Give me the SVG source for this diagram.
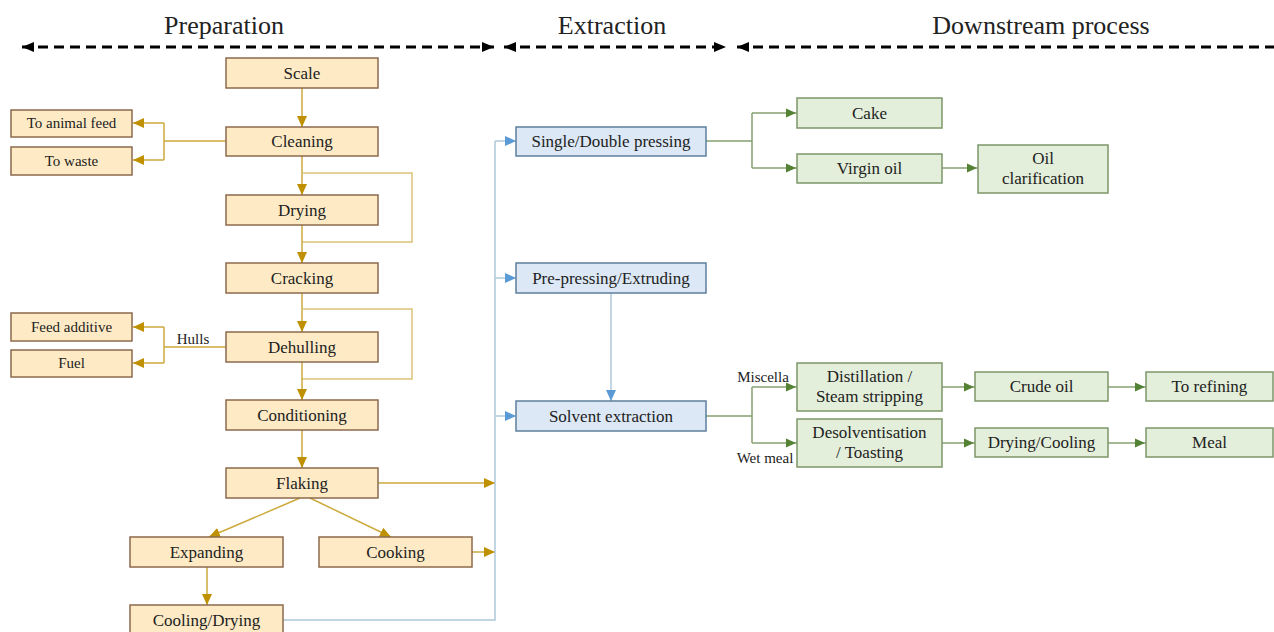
<svg xmlns="http://www.w3.org/2000/svg" width="1274" height="632" viewBox="0 0 1274 632">
<defs>
<style>
text{font-family:"Liberation Serif","DejaVu Serif",serif;fill:#222;text-anchor:middle}
.h{font-size:26px}
.t{font-size:17px}
.s{font-size:15px}
.o rect{fill:#FEEBC6;stroke:#8C6A4C;stroke-width:1.5}
.b rect{fill:#DCE8F5;stroke:#5E7F9C;stroke-width:1.5}
.g rect{fill:#E3EFDA;stroke:#7C9669;stroke-width:1.5}
.co{fill:none;stroke:#CDAA3C;stroke-width:1.5}
.cl{fill:none;stroke:#DCC27A;stroke-width:1.5}
.cb{fill:none;stroke:#AFC8DA;stroke-width:1.5}
.cg{fill:none;stroke:#86A072;stroke-width:1.5}
.dash{fill:none;stroke:#000;stroke-width:3;stroke-dasharray:10 6}
</style>
<marker id="ao" markerUnits="userSpaceOnUse" markerWidth="12" markerHeight="12" refX="11" refY="6" orient="auto"><path d="M0,1 L11,6 L0,11 Z" fill="#BF9000"/></marker>
<marker id="ab" markerUnits="userSpaceOnUse" markerWidth="12" markerHeight="12" refX="11" refY="6" orient="auto"><path d="M0,1 L11,6 L0,11 Z" fill="#5B9BD5"/></marker>
<marker id="ag" markerUnits="userSpaceOnUse" markerWidth="12" markerHeight="12" refX="11" refY="6" orient="auto"><path d="M0,1.5 L10,6 L0,10.5 Z" fill="#548235"/></marker>
<marker id="ak" markerUnits="userSpaceOnUse" markerWidth="14" markerHeight="14" refX="12" refY="7" orient="auto-start-reverse"><path d="M0,2 L12,7 L0,12 Z" fill="#000"/></marker>
</defs>

<g id="headers">
<text class="h" x="224" y="34">Preparation</text>
<text class="h" x="612" y="34">Extraction</text>
<text class="h" x="1041" y="34">Downstream process</text>
<line class="dash" x1="22" y1="47" x2="494" y2="47" marker-start="url(#ak)" marker-end="url(#ak)"/>
<line class="dash" x1="504" y1="47" x2="726" y2="47" marker-start="url(#ak)" marker-end="url(#ak)"/>
<line class="dash" x1="737" y1="47" x2="1274" y2="47" marker-start="url(#ak)"/>
</g>

<g id="connectors">
<line class="co" x1="302" y1="88" x2="302" y2="127" marker-end="url(#ao)"/>
<path class="co" d="M226,141 H164 M164,123 V160"/>
<line class="co" x1="164" y1="123" x2="133" y2="123" marker-end="url(#ao)"/>
<line class="co" x1="164" y1="160" x2="133" y2="160" marker-end="url(#ao)"/>
<line class="co" x1="302" y1="156" x2="302" y2="195" marker-end="url(#ao)"/>
<path class="cl" d="M302,173 H412 V242 H302"/>
<line class="co" x1="302" y1="225" x2="302" y2="263" marker-end="url(#ao)"/>
<line class="co" x1="302" y1="293" x2="302" y2="332" marker-end="url(#ao)"/>
<path class="cl" d="M302,309 H412 V379 H302"/>
<path class="co" d="M226,347 H164 M164,327 V363"/>
<line class="co" x1="164" y1="327" x2="133" y2="327" marker-end="url(#ao)"/>
<line class="co" x1="164" y1="363" x2="133" y2="363" marker-end="url(#ao)"/>
<line class="co" x1="302" y1="362" x2="302" y2="400" marker-end="url(#ao)"/>
<line class="co" x1="302" y1="430" x2="302" y2="468" marker-end="url(#ao)"/>
<line class="co" x1="300" y1="498" x2="209" y2="537" marker-end="url(#ao)"/>
<line class="co" x1="310" y1="498" x2="391" y2="537" marker-end="url(#ao)"/>
<line class="co" x1="207" y1="567" x2="207" y2="605" marker-end="url(#ao)"/>
<line class="co" x1="378" y1="483" x2="495" y2="483" marker-end="url(#ao)"/>
<line class="co" x1="472" y1="552" x2="495" y2="552" marker-end="url(#ao)"/>
<path class="cb" d="M283,620 H495 V141"/>
<line class="cb" x1="495" y1="141" x2="516" y2="141" marker-end="url(#ab)"/>
<line class="cb" x1="495" y1="278" x2="516" y2="278" marker-end="url(#ab)"/>
<line class="cb" x1="495" y1="416" x2="516" y2="416" marker-end="url(#ab)"/>
<line class="cb" x1="611" y1="293" x2="611" y2="401" marker-end="url(#ab)"/>
<path class="cg" d="M706,141 H752 M752,113 V168"/>
<line class="cg" x1="752" y1="113" x2="797" y2="113" marker-end="url(#ag)"/>
<line class="cg" x1="752" y1="168" x2="797" y2="168" marker-end="url(#ag)"/>
<line class="cg" x1="942" y1="168" x2="978" y2="168" marker-end="url(#ag)"/>
<path class="cg" d="M706,416 H752 M752,387 V443"/>
<line class="cg" x1="752" y1="387" x2="797" y2="387" marker-end="url(#ag)"/>
<line class="cg" x1="752" y1="443" x2="797" y2="443" marker-end="url(#ag)"/>
<line class="cg" x1="942" y1="387" x2="975" y2="387" marker-end="url(#ag)"/>
<line class="cg" x1="1108" y1="387" x2="1146" y2="387" marker-end="url(#ag)"/>
<line class="cg" x1="942" y1="443" x2="975" y2="443" marker-end="url(#ag)"/>
<line class="cg" x1="1108" y1="443" x2="1146" y2="443" marker-end="url(#ag)"/>
<text class="s" x="193" y="344">Hulls</text>
<text class="s" x="763" y="382">Miscella</text>
<text class="s" x="765" y="463">Wet meal</text>
</g>

<g id="scale" class="o"><rect x="226" y="58" width="152" height="30"/><text class="t" x="302" y="79">Scale</text></g>
<g id="cleaning" class="o"><rect x="226" y="127" width="152" height="29"/><text class="t" x="302" y="147">Cleaning</text></g>
<g id="animal-feed" class="o"><rect x="11" y="110" width="121" height="27"/><text class="s" x="71.5" y="128">To animal feed</text></g>
<g id="waste" class="o"><rect x="11" y="147" width="121" height="28"/><text class="s" x="71.5" y="166">To waste</text></g>
<g id="drying" class="o"><rect x="226" y="195" width="152" height="30"/><text class="t" x="302" y="216">Drying</text></g>
<g id="cracking" class="o"><rect x="226" y="263" width="152" height="30"/><text class="t" x="302" y="284">Cracking</text></g>
<g id="feed-additive" class="o"><rect x="11" y="313" width="121" height="28"/><text class="s" x="71.5" y="332">Feed additive</text></g>
<g id="fuel" class="o"><rect x="11" y="350" width="121" height="27"/><text class="s" x="71.5" y="368">Fuel</text></g>
<g id="dehulling" class="o"><rect x="226" y="332" width="152" height="30"/><text class="t" x="302" y="353">Dehulling</text></g>
<g id="conditioning" class="o"><rect x="226" y="400" width="152" height="30"/><text class="t" x="302" y="421">Conditioning</text></g>
<g id="flaking" class="o"><rect x="226" y="468" width="152" height="30"/><text class="t" x="302" y="489">Flaking</text></g>
<g id="expanding" class="o"><rect x="130" y="537" width="153" height="30"/><text class="t" x="206.5" y="558">Expanding</text></g>
<g id="cooking" class="o"><rect x="319" y="537" width="153" height="30"/><text class="t" x="395.5" y="558">Cooking</text></g>
<g id="cooling-drying" class="o"><rect x="130" y="605" width="153" height="30"/><text class="t" x="206.5" y="626">Cooling/Drying</text></g>

<g id="single-double" class="b"><rect x="516" y="127" width="190" height="29"/><text class="t" x="611" y="147">Single/Double pressing</text></g>
<g id="pre-pressing" class="b"><rect x="516" y="263" width="190" height="30"/><text class="t" x="611" y="284">Pre-pressing/Extruding</text></g>
<g id="solvent" class="b"><rect x="516" y="401" width="190" height="30"/><text class="t" x="611" y="422">Solvent extraction</text></g>

<g id="cake" class="g"><rect x="797" y="98" width="145" height="30"/><text class="t" x="869.5" y="119">Cake</text></g>
<g id="virgin-oil" class="g"><rect x="797" y="154" width="145" height="29"/><text class="t" x="869.5" y="174">Virgin oil</text></g>
<g id="oil-clarification" class="g"><rect x="978" y="145" width="130" height="48"/><text class="t" x="1043" y="164">Oil</text><text class="t" x="1043" y="184">clarification</text></g>
<g id="distillation" class="g"><rect x="797" y="363" width="145" height="48"/><text class="t" x="869.5" y="382">Distillation /</text><text class="t" x="869.5" y="402">Steam stripping</text></g>
<g id="crude-oil" class="g"><rect x="975" y="372" width="133" height="29"/><text class="t" x="1041.5" y="392">Crude oil</text></g>
<g id="to-refining" class="g"><rect x="1146" y="372" width="127" height="29"/><text class="t" x="1209.5" y="392">To refining</text></g>
<g id="desolventisation" class="g"><rect x="797" y="419" width="145" height="48"/><text class="t" x="869.5" y="438">Desolventisation</text><text class="t" x="869.5" y="458">/ Toasting</text></g>
<g id="drying-cooling" class="g"><rect x="975" y="428" width="133" height="29"/><text class="t" x="1041.5" y="448">Drying/Cooling</text></g>
<g id="meal" class="g"><rect x="1146" y="428" width="127" height="29"/><text class="t" x="1209.5" y="448">Meal</text></g>
</svg>
